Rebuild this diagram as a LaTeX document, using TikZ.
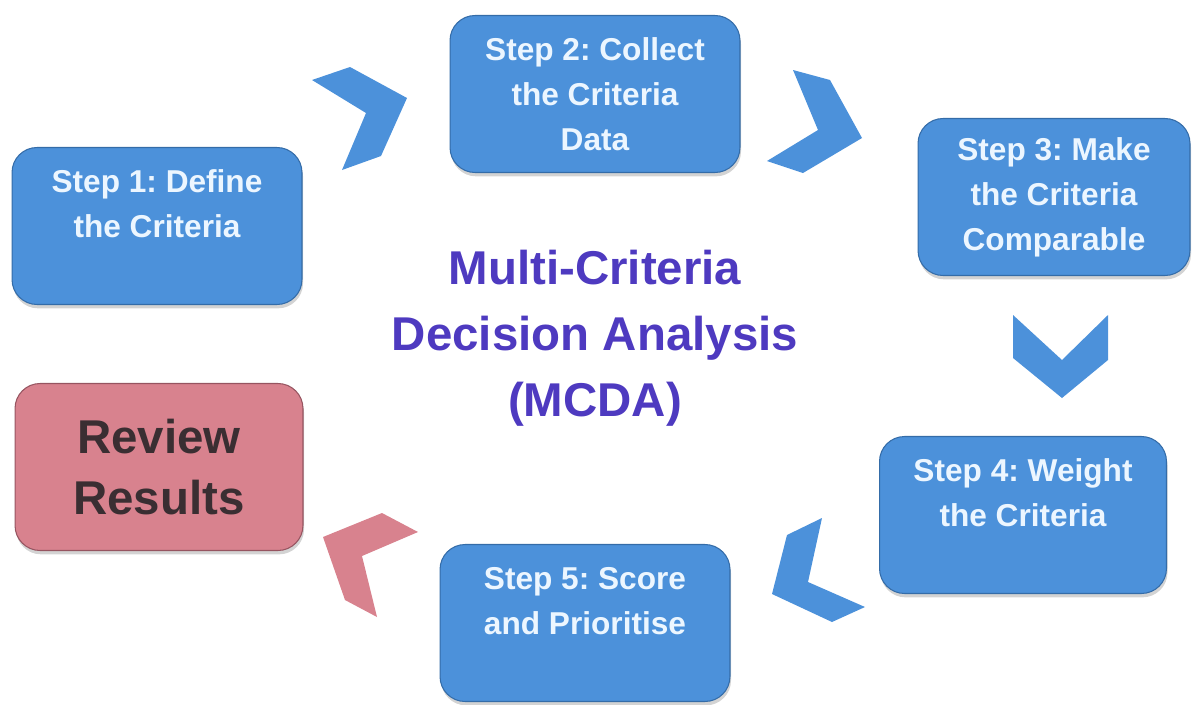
\documentclass[tikz,border=0pt]{standalone}
\usepackage{fontspec}
\setmainfont{Liberation Sans}
\frenchspacing
\usetikzlibrary{shadows}

\definecolor{stepblau}{RGB}{76,145,218}
\definecolor{steprand}{RGB}{52,108,168}
\definecolor{steptext}{RGB}{236,246,255}
\definecolor{rosa}{RGB}{216,130,142}
\definecolor{rosarand}{RGB}{150,84,96}
\definecolor{rosatext}{RGB}{58,46,50}
\definecolor{lila}{RGB}{78,58,192}

\tikzset{
  stepbox/.style={draw=steprand, fill=stepblau, rounded corners=0.5cm, line width=0.6pt,
    minimum width=5.8cm, minimum height=3.14cm, align=center, text=steptext,
    font=\fontsize{18}{25.6}\selectfont\bfseries,
    drop shadow={shadow xshift=0.6pt, shadow yshift=-2.2pt, opacity=0.35}},
  reviewbox/.style={stepbox, draw=rosarand, fill=rosa, text=rosatext,
    minimum width=5.76cm, minimum height=3.34cm,
    font=\fontsize{27}{35}\selectfont\bfseries},
  pfeil/.style={fill=stepblau, draw=none},
  pfeilrosa/.style={fill=rosa, draw=none}
}

\begin{document}
\begin{tikzpicture}[x=0.02cm, y=-0.02cm]
  \useasboundingbox (0,0) rectangle (1201,704);

  % Schritte
  \node[stepbox] (s1) at (157,226) {Step 1: Define\\the Criteria\\~};
  \node[stepbox] (s2) at (595,94) {Step 2: Collect\\the Criteria\\Data};
  \node[stepbox, minimum width=5.44cm] (s3) at (1054,197) {Step 3: Make\\the Criteria\\Comparable};
  \node[stepbox, minimum width=5.74cm] (s4) at (1023,515) {Step 4: Weight\\the Criteria\\~};
  \node[stepbox] (s5) at (585,623) {Step 5: Score\\and Prioritise\\~};

  % Ergebnis
  \node[reviewbox] (review) at (159,467) {Review\\Results};

  % Titel in der Mitte
  \node[align=center, text=lila, font=\fontsize{27}{37.6}\selectfont\bfseries] (titel) at (595,338)
    {Multi-Criteria\\Decision Analysis\\(MCDA)};

  % Pfeile zwischen den Schritten
  \fill[pfeil] (312,80) -- (350,67) -- (407,98) -- (381,156) -- (342,170) -- (366,113) -- cycle;
  \fill[pfeil] (793,70) -- (830,80) -- (862,138) -- (803,173) -- (767,161) -- (818,130) -- cycle;
  \fill[pfeil] (1013,315) -- (1062,360) -- (1108,315) -- (1108,360) -- (1062,398) -- (1013,358) -- cycle;
  \fill[pfeil] (787,535) -- (822,518) -- (808,582) -- (865,607) -- (832,622) -- (772,594) -- cycle;
  \fill[pfeilrosa] (323,537) -- (382,513) -- (418,532) -- (362,556) -- (377,617) -- (345,600) -- cycle;

\end{tikzpicture}
\end{document}
